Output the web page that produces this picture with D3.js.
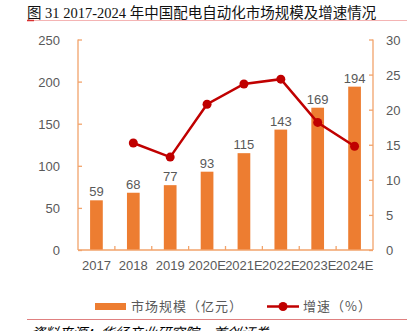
<!DOCTYPE html>
<html><head><meta charset="utf-8">
<script src="https://cdn.jsdelivr.net/npm/d3@7"></script>
<style>body{margin:0;background:#fff}svg{display:block}</style>
</head><body>
<script>
const categories = ["2017","2018","2019","2020E","2021E","2022E","2023E","2024E"];
const marketSize = [59,68,77,93,115,143,169,194];
const growth = [null,15.25,13.24,20.78,23.66,24.35,18.18,14.79];
const leftTicks = [0,50,100,150,200,250];
const rightTicks = [0,5,10,15,20,25,30];

const W=407,H=331;
const svg=d3.select("body").append("svg").attr("width",W).attr("height",H);
const x0=78,x1=373,yb=250,yt=39.5;
const x=d3.scaleBand().domain(categories).range([x0,x1]);
const yL=d3.scaleLinear().domain([0,250]).range([yb,yt]);
const yR=d3.scaleLinear().domain([0,30]).range([yb,yt]);
const axisCol="#F2A36B", barCol="#ED7D31", lineCol="#C00000", txt="#595959";
const font="Arial, 'Liberation Sans', 'Noto Sans CJK SC', sans-serif";

// title
svg.append("text").attr("x",27).attr("y",18).attr("font-size",14.5)
 .attr("font-family","'Liberation Serif','Noto Sans CJK SC',serif").attr("fill","#111")
 .text("图 31 2017-2024 年中国配电自动化市场规模及增速情况");
svg.append("line").attr("x1",27).attr("x2",407).attr("y1",20.5).attr("y2",20.5).attr("stroke","#F4B4B4").attr("stroke-width",1);
svg.append("line").attr("x1",27).attr("x2",34).attr("y1",20.5).attr("y2",20.5).attr("stroke","#D83030").attr("stroke-width",1.5);

// bars
const bw=12.7;
svg.append("g").selectAll("rect").data(marketSize).join("rect")
 .attr("x",(d,i)=>x(categories[i])+x.bandwidth()/2-bw/2).attr("width",bw)
 .attr("y",d=>yL(d)).attr("height",d=>yb-yL(d)).attr("fill",barCol);
svg.append("g").selectAll("text").data(marketSize).join("text")
 .attr("x",(d,i)=>x(categories[i])+x.bandwidth()/2).attr("y",d=>yL(d)-4)
 .attr("text-anchor","middle").attr("font-size",13).attr("font-family",font).attr("fill",txt).text(d=>d);

// axes
const gl=svg.append("g").attr("transform",`translate(${x0},0)`)
 .call(d3.axisRight(yL).tickValues(leftTicks).tickSize(4).tickFormat(""));
const gr=svg.append("g").attr("transform",`translate(${x1},0)`)
 .call(d3.axisLeft(yR).tickValues(rightTicks).tickSize(4).tickFormat(""));
const gx=svg.append("g").attr("transform",`translate(0,${yb})`)
 .call(d3.axisTop(x).tickValues([]).tickSizeOuter(0));
[gl,gr,gx].forEach(g=>{g.selectAll("path,line").attr("stroke",axisCol).attr("stroke-width",1.3);});
gl.select("path").attr("d",`M0,${yt}V${yb}`);
gr.select("path").attr("d",`M0,${yt}V${yb}`);
gx.select("path").attr("d",`M${x0},0H${x1}`);
gx.selectAll(".bt").data(categories.slice(1)).join("line").attr("class","bt")
 .attr("x1",d=>x(d)).attr("x2",d=>x(d)).attr("y1",0).attr("y2",-4).attr("stroke",axisCol).attr("stroke-width",1.3);

svg.append("g").selectAll("text").data(leftTicks).join("text")
 .attr("x",60).attr("y",d=>yL(d)+5).attr("text-anchor","end").attr("font-size",13)
 .attr("font-family",font).attr("fill",txt).text(d=>d);
svg.append("g").selectAll("text").data(rightTicks).join("text")
 .attr("x",386).attr("y",d=>yR(d)+5).attr("text-anchor","start").attr("font-size",13)
 .attr("font-family",font).attr("fill",txt).text(d=>d);
svg.append("g").selectAll("text").data(categories).join("text")
 .attr("x",d=>x(d)+x.bandwidth()/2).attr("y",270).attr("text-anchor","middle").attr("font-size",13)
 .attr("font-family",font).attr("fill",txt).text(d=>d);

// line
const pts=categories.map((c,i)=>({c,v:growth[i]})).filter(d=>d.v!=null);
svg.append("path").datum(pts).attr("fill","none").attr("stroke",lineCol).attr("stroke-width",2.5)
 .attr("d",d3.line().x(d=>x(d.c)+x.bandwidth()/2).y(d=>yR(d.v)));
svg.append("g").selectAll("circle").data(pts).join("circle")
 .attr("cx",d=>x(d.c)+x.bandwidth()/2).attr("cy",d=>yR(d.v)).attr("r",4.5).attr("fill",lineCol);

// legend
svg.append("rect").attr("x",95).attr("y",303).attr("width",31).attr("height",7).attr("fill",barCol);
svg.append("text").attr("x",131).attr("y",311).attr("font-size",13).attr("font-family","'Noto Sans CJK SC',sans-serif")
 .attr("fill",txt).attr("letter-spacing",1).text("市场规模（亿元）");
svg.append("line").attr("x1",267).attr("x2",299).attr("y1",306.5).attr("y2",306.5).attr("stroke",lineCol).attr("stroke-width",2.5);
svg.append("circle").attr("cx",283).attr("cy",306.5).attr("r",4.5).attr("fill",lineCol);
svg.append("text").attr("x",303).attr("y",311).attr("font-size",13).attr("font-family","'Noto Sans CJK SC',sans-serif")
 .attr("fill",txt).attr("letter-spacing",1).text("增速（%）");

// bottom rule and source (cut off by the frame, as in the reference)
svg.append("line").attr("x1",27).attr("x2",407).attr("y1",319.5).attr("y2",319.5).attr("stroke","#E08080").attr("stroke-width",1);
svg.append("text").attr("x",30).attr("y",338).attr("font-size",14).attr("font-style","italic")
 .attr("font-family","'Noto Sans CJK SC',sans-serif").attr("fill","#000").attr("transform","skewX(-10) translate(59,0)")
 .text("资料来源：华经产业研究院，首创证券");
</script>
</body></html>
